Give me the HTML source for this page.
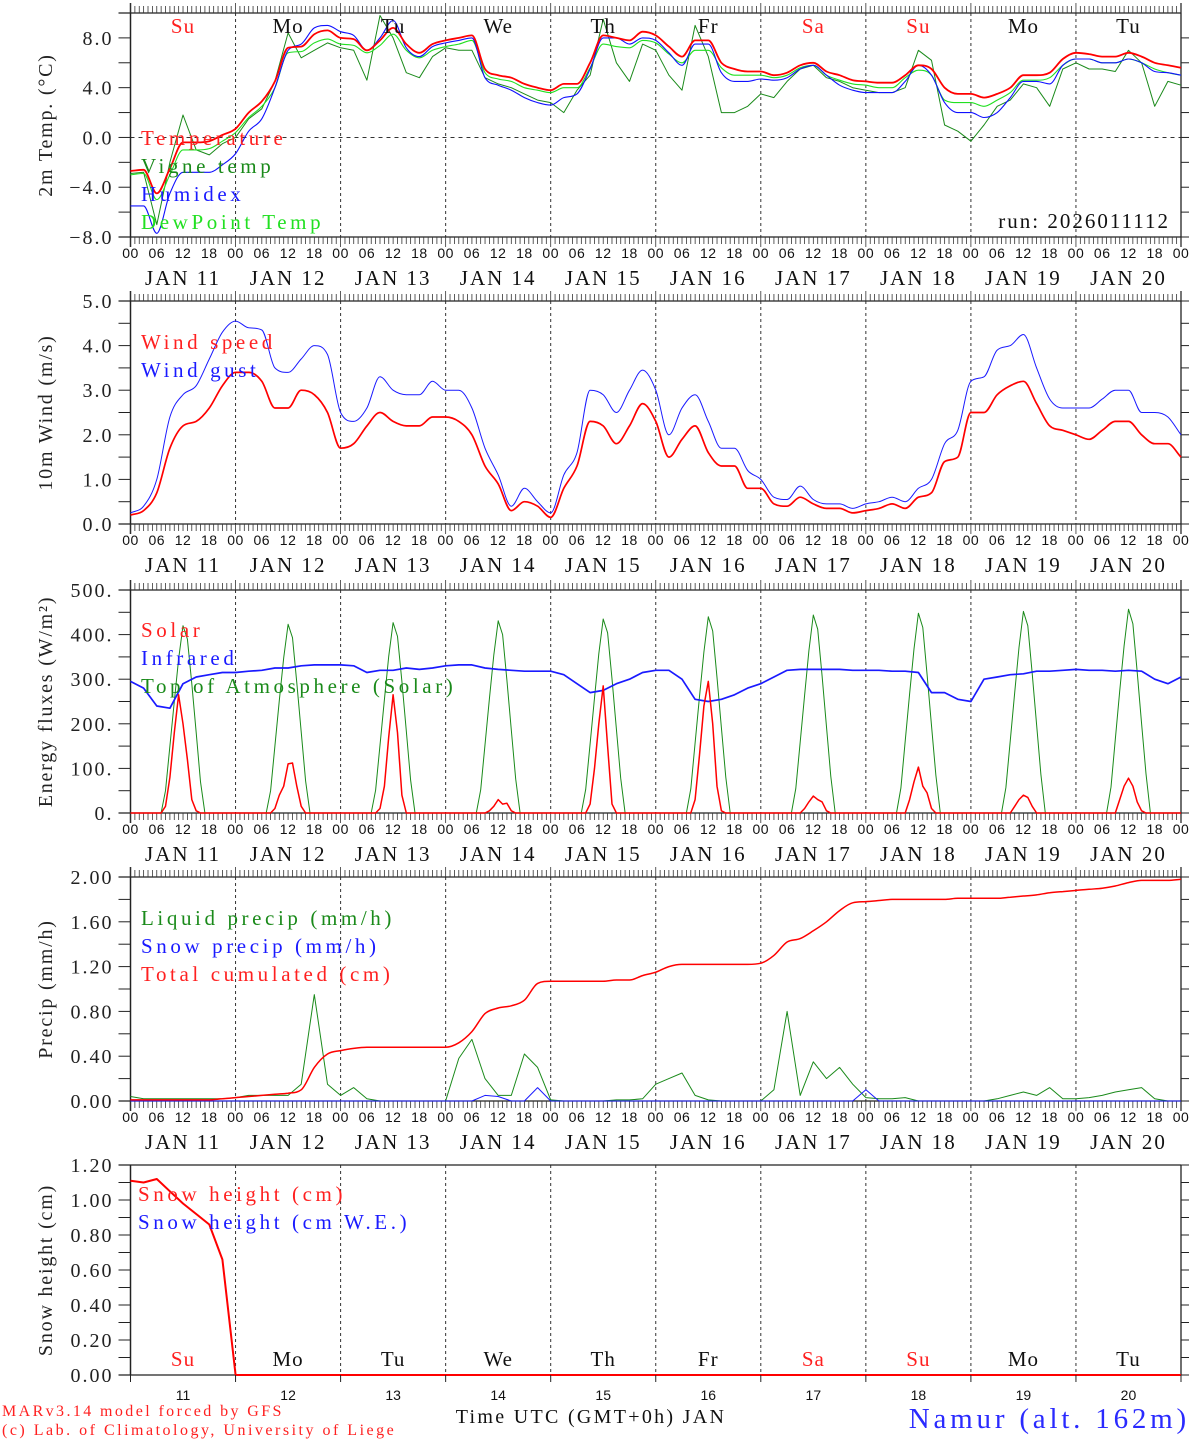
<!DOCTYPE html>
<html><head><meta charset="utf-8"><style>
html,body{margin:0;padding:0;background:#fff}
svg{display:block;font-family:"Liberation Serif",serif}
</style></head><body>
<svg id="chart" width="1194" height="1440" viewBox="0 0 1194 1440" xmlns="http://www.w3.org/2000/svg"></svg>
<script>
const days=["11","12","13","14","15","16","17","18","19","20"];
const weekdays=["Su","Mo","Tu","We","Th","Fr","Sa","Su","Mo","Tu"];
const weekendFlags=[1,0,0,0,0,0,1,1,0,0];
// 3-hourly series (81 values: 00Z Jan 11 .. 00Z Jan 21)
const tempVals=[-2.7,-2.6,-4.5,-2.5,-0.4,-0.4,-0.3,0.2, 0.7,2.0,2.9,4.5,7.2,7.3,8.3,8.6, 8.0,7.9,7.0,7.8,8.8,7.5,6.8,7.5, 7.8,8.0,8.2,5.5,5.0,4.8,4.3,4.0, 3.8,4.3,4.3,6.0,8.2,8.0,7.8,8.5, 8.2,7.3,6.5,7.8,7.8,6.0,5.5,5.3, 5.3,5.0,5.2,5.8,6.0,5.3,5.0,4.6, 4.5,4.4,4.4,5.0,5.8,5.5,4.0,3.5, 3.5,3.2,3.5,4.0,5.0,5.0,5.2,6.3, 6.8,6.7,6.5,6.5,6.8,6.5,6.0,5.8,5.6];
const vigneVals=[-2.9,-2.8,-7.0,-2.0,1.8,-1.0,-1.4,-0.5, 0.0,1.5,2.3,4.5,8.4,6.4,7.0,7.6, 7.2,7.0,4.6,9.8,8.0,5.2,4.8,6.5, 7.2,7.0,7.0,4.8,4.3,4.0,3.5,3.0, 2.8,2.0,3.8,5.0,9.5,6.0,4.5,7.5, 7.0,5.0,3.8,9.0,6.5,2.0,2.0,2.5, 3.5,3.2,4.5,5.5,5.8,4.8,4.5,4.0, 3.8,3.6,3.6,4.0,7.0,6.2,1.0,0.5, -0.3,1.0,2.5,3.0,4.3,4.0,2.5,5.5, 6.0,5.5,5.5,5.3,7.0,6.0,2.5,4.5,4.2];
const humidexVals=[-5.5,-5.5,-7.7,-4.5,-2.8,-2.8,-2.8,-2.2, -1.3,0.5,1.5,4.0,7.0,7.5,8.8,9.0, 8.5,8.2,7.0,8.0,9.4,7.2,6.5,7.3, 7.6,7.8,8.0,4.8,4.2,3.8,3.2,2.8, 2.6,3.2,3.5,5.5,8.0,8.0,7.5,8.0, 7.8,6.8,5.8,7.5,7.5,5.2,4.5,4.5, 4.7,4.6,4.8,5.5,5.8,5.0,4.2,3.8, 3.6,3.6,3.6,4.5,5.8,5.0,2.8,2.0, 2.0,1.6,2.0,3.2,4.5,4.5,4.3,5.8, 6.3,6.3,6.0,6.0,6.3,6.0,5.3,5.2,5.0];
const dewVals=[-3.0,-2.9,-5.0,-3.0,-1.0,-1.0,-0.9,-0.3, 0.4,1.6,2.5,4.0,6.8,6.9,7.6,7.9, 7.5,7.4,6.8,7.4,8.3,7.0,6.4,7.0, 7.3,7.5,7.8,5.2,4.7,4.5,4.0,3.8, 3.6,4.0,4.0,5.6,7.5,7.3,7.2,7.8, 7.6,6.7,6.0,7.0,7.0,5.6,5.0,5.0, 5.0,4.8,5.0,5.6,5.8,5.0,4.6,4.3, 4.2,4.0,4.0,4.8,5.4,5.0,3.0,2.8, 2.8,2.5,3.0,3.6,4.6,4.6,4.8,5.8, 6.3,6.3,6.0,6.0,6.3,6.0,5.5,5.2,5.0];
const windVals=[0.2,0.3,0.7,1.7,2.2,2.3,2.6,3.1, 3.4,3.4,3.2,2.6,2.6,3.0,2.9,2.5, 1.7,1.8,2.2,2.5,2.3,2.2,2.2,2.4, 2.4,2.3,2.0,1.3,0.9,0.3,0.5,0.4, 0.15,0.8,1.3,2.3,2.2,1.8,2.2,2.7, 2.3,1.5,1.9,2.2,1.6,1.3,1.3,0.8, 0.8,0.45,0.4,0.6,0.45,0.35,0.35,0.25, 0.3,0.35,0.45,0.35,0.6,0.7,1.4,1.5, 2.5,2.5,2.9,3.1,3.2,2.7,2.2,2.1, 2.0,1.9,2.1,2.3,2.3,2.0,1.8,1.8,1.5];
const gustVals=[0.25,0.4,1.0,2.4,2.9,3.1,3.7,4.3, 4.55,4.4,4.35,3.5,3.4,3.7,4.0,3.8, 2.5,2.3,2.6,3.3,3.0,2.9,2.9,3.2, 3.0,3.0,2.6,1.7,1.1,0.4,0.8,0.5, 0.25,1.1,1.6,3.0,2.9,2.5,3.0,3.45, 3.0,2.0,2.6,2.9,2.3,1.7,1.7,1.2, 1.0,0.6,0.55,0.85,0.55,0.45,0.45,0.35, 0.45,0.5,0.6,0.5,0.8,1.0,1.8,2.1, 3.2,3.3,3.9,4.0,4.25,3.5,2.8,2.6, 2.6,2.6,2.8,3.0,3.0,2.5,2.5,2.4,2.0];
// hourly (241 values) for solar / TOA
const solarVals=[
0,0,0,0,0,0,0,0,15,80,180,265,200,120,30,5,0,0,0,0,0,0,0,0,
0,0,0,0,0,0,0,0,0,10,40,60,110,112,60,15,0,0,0,0,0,0,0,0,
0,0,0,0,0,0,0,0,0,10,60,170,265,180,40,0,0,0,0,0,0,0,0,0,
0,0,0,0,0,0,0,0,0,0,5,15,30,20,22,5,0,0,0,0,0,0,0,0,
0,0,0,0,0,0,0,0,0,20,100,200,285,150,20,0,0,0,0,0,0,0,0,0,
0,0,0,0,0,0,0,0,0,30,130,240,295,200,60,5,0,0,0,0,0,0,0,0,
0,0,0,0,0,0,0,0,0,0,10,25,38,30,25,5,0,0,0,0,0,0,0,0,
0,0,0,0,0,0,0,0,0,0,30,70,103,60,45,10,0,0,0,0,0,0,0,0,
0,0,0,0,0,0,0,0,0,0,15,30,40,35,15,0,0,0,0,0,0,0,0,0,
0,0,0,0,0,0,0,0,0,0,30,60,78,60,25,5,0,0,0,0,0,0,0,0,0];
const toaVals=[
0,0,0,0,0,0,0,0,50,150,250,345,420,390,290,180,70,0,0,0,0,0,0,0,
0,0,0,0,0,0,0,0,50,150,252,348,423,393,292,182,72,0,0,0,0,0,0,0,
0,0,0,0,0,0,0,0,51,152,254,351,427,396,295,184,74,0,0,0,0,0,0,0,
0,0,0,0,0,0,0,0,52,153,256,354,431,400,298,186,76,0,0,0,0,0,0,0,
0,0,0,0,0,0,0,0,53,155,258,357,435,404,301,188,78,0,0,0,0,0,0,0,
0,0,0,0,0,0,0,0,54,157,261,361,440,408,304,191,80,0,0,0,0,0,0,0,
0,0,0,0,0,0,0,0,55,159,264,364,444,412,307,193,82,0,0,0,0,0,0,0,
0,0,0,0,0,0,0,0,56,161,267,368,448,416,310,196,84,0,0,0,0,0,0,0,
0,0,0,0,0,0,0,0,57,163,270,371,452,420,313,198,86,0,0,0,0,0,0,0,
0,0,0,0,0,0,0,0,58,165,273,375,457,424,316,200,88,0,0,0,0,0,0,0,0];
const infraredVals=[295,280,240,235,290,305,310,315, 315,318,320,325,325,330,332,332, 332,330,315,320,320,325,322,325, 330,332,332,325,322,320,318,318, 318,310,290,270,275,290,300,315, 320,320,300,255,250,255,265,280, 290,305,320,322,322,322,322,320, 320,320,318,318,315,270,270,255, 250,300,305,310,312,318,318,320, 322,320,320,318,320,318,300,290,305];
const liquidVals=[0.04,0.02,0.02,0.02,0.02,0.02,0.02,0.02, 0.03,0.05,0.05,0.05,0.05,0.15,0.95,0.15, 0.05,0.12,0.02,0,0,0,0,0, 0,0.38,0.55,0.2,0.05,0.05,0.42,0.3, 0.01,0,0,0,0,0.01,0.01,0.02, 0.15,0.2,0.25,0.05,0.01,0,0,0, 0,0.1,0.8,0.05,0.35,0.2,0.3,0.15, 0.03,0.02,0.02,0.03,0,0,0,0, 0,0,0.02,0.05,0.08,0.05,0.12,0.02, 0.02,0.03,0.05,0.08,0.1,0.12,0.02,0,0];
const snowPrecipVals=[0,0,0,0,0,0,0,0, 0,0,0,0,0,0,0,0, 0,0,0,0,0,0,0,0, 0,0,0,0.05,0.04,0,0,0.12, 0,0,0,0,0,0,0,0, 0,0,0,0,0,0,0,0, 0,0,0,0,0,0,0,0, 0.1,0,0,0,0,0,0,0, 0,0,0,0,0,0,0,0, 0,0,0,0,0,0,0,0,0];
const cumulVals=[0.01,0.01,0.01,0.01,0.01,0.01,0.01,0.02, 0.03,0.04,0.05,0.06,0.07,0.10,0.30,0.42, 0.45,0.47,0.48,0.48,0.48,0.48,0.48,0.48, 0.48,0.52,0.62,0.78,0.83,0.85,0.90,1.05, 1.07,1.07,1.07,1.07,1.07,1.08,1.08,1.12, 1.15,1.20,1.22,1.22,1.22,1.22,1.22,1.22, 1.23,1.30,1.42,1.45,1.52,1.60,1.70,1.77, 1.78,1.79,1.80,1.80,1.80,1.80,1.80,1.81, 1.81,1.81,1.81,1.82,1.83,1.84,1.86,1.87, 1.88,1.89,1.90,1.92,1.95,1.97,1.97,1.97,1.98];
const snowHeightVals=[1.11,1.10,1.12,1.05,0.98,0.92,0.86,0.66, 0,0,0,0,0,0,0,0, 0,0,0,0,0,0,0,0, 0,0,0,0,0,0,0,0, 0,0,0,0,0,0,0,0, 0,0,0,0,0,0,0,0, 0,0,0,0,0,0,0,0, 0,0,0,0,0,0,0,0, 0,0,0,0,0,0,0,0, 0,0,0,0,0,0,0,0,0];
const tempTicks=["8.0","4.0","0.0","−4.0","−8.0"];
const windTicks=["5.0","4.0","3.0","2.0","1.0","0.0"];
const energyTicks=["500.","400.","300.","200.","100.","0."];
const precipTicks=["2.00","1.60","1.20","0.80","0.40","0.00"];
const snowTicks=["1.20","1.00","0.80","0.60","0.40","0.20","0.00"];

const NS="http://www.w3.org/2000/svg";
const svg=document.getElementById('chart');
const X0=130.5,X1=1181;
function x(h){return X0+(X1-X0)*h/240;}
function mk(tag,attrs,parent){const e=document.createElementNS(NS,tag);for(const k in attrs)e.setAttribute(k,attrs[k]);(parent||svg).appendChild(e);return e;}
function txt(s,attrs,parent){const e=mk('text',attrs,parent);e.textContent=s;return e;}
function monoPath(P){
  const n=P.length;if(n<2)return '';
  const d=[],m=new Array(n);
  for(let i=0;i<n-1;i++)d.push((P[i+1][1]-P[i][1])/(P[i+1][0]-P[i][0]));
  m[0]=d[0];m[n-1]=d[n-2];
  for(let i=1;i<n-1;i++){m[i]=(d[i-1]*d[i]<=0)?0:(d[i-1]+d[i])/2;}
  for(let i=0;i<n-1;i++){if(d[i]===0){m[i]=0;m[i+1]=0;continue;}
    const a=m[i]/d[i],b=m[i+1]/d[i],s=a*a+b*b;if(s>9){const t=3/Math.sqrt(s);m[i]=t*a*d[i];m[i+1]=t*b*d[i];}}
  let s='M'+P[0][0].toFixed(1)+','+P[0][1].toFixed(1);
  for(let i=0;i<n-1;i++){const h=(P[i+1][0]-P[i][0])/3;
    s+=' C'+(P[i][0]+h).toFixed(1)+','+(P[i][1]+m[i]*h).toFixed(1)+' '+(P[i+1][0]-h).toFixed(1)+','+(P[i+1][1]-m[i+1]*h).toFixed(1)+' '+P[i+1][0].toFixed(1)+','+P[i+1][1].toFixed(1);}
  return s;
}

function panel(cfg){
  const g=mk('g',{});
  
  
  const top=cfg.top,bot=cfg.bot;
  const y=v=>bot-(v-cfg.min)/(cfg.max-cfg.min)*(bot-top);
  for(let d=1;d<10;d++){const l=mk('line',{x1:x(d*24),x2:x(d*24),y1:top,y2:bot,stroke:'#333','stroke-width':1,'stroke-dasharray':'3,3'},g);
    }
  if(cfg.zeroLine){const l=mk('line',{x1:X0,x2:X1,y1:y(0),y2:y(0),stroke:'#333','stroke-dasharray':'4,4'},g);
    }
  mk('line',{x1:X0-12,x2:X1,y1:top,y2:top,stroke:'#222','stroke-width':1.3},g);
  mk('line',{x1:X0-12,x2:X1,y1:bot,y2:bot,stroke:'#222','stroke-width':1.3},g);
  mk('line',{x1:X0,x2:X0,y1:cfg.hourTicks?top-10:top,y2:cfg.hourTicks?bot+10:bot,stroke:'#222','stroke-width':1.5},g);
  mk('line',{x1:X1,x2:X1,y1:cfg.hourTicks?top-10:top,y2:cfg.hourTicks?bot+10:bot,stroke:'#222','stroke-width':1.3},g);
  if(cfg.hourTicks){
    for(let h=0;h<=240;h++){const L=(h%24==0)?10:7;
      mk('line',{x1:x(h),x2:x(h),y1:top-L,y2:top,stroke:'#333','stroke-width':0.8},g);
      mk('line',{x1:x(h),x2:x(h),y1:bot,y2:bot+L,stroke:'#333','stroke-width':0.8},g);}
  }
  const n=cfg.ticks.length;
  cfg.ticks.forEach((t,i)=>{const v=cfg.max-(cfg.max-cfg.min)*i/(n-1);const yy=y(v);
    mk('line',{x1:X0-12,x2:X0,y1:yy,y2:yy,stroke:'#222'},g);
    mk('line',{x1:X1,x2:X1+8,y1:yy,y2:yy,stroke:'#222'},g);
    if(i<n-1){const ym=yy+(bot-top)/(n-1)/2;mk('line',{x1:X0-12,x2:X0,y1:ym,y2:ym,stroke:'#222'},g);mk('line',{x1:X1,x2:X1+8,y1:ym,y2:ym,stroke:'#222'},g);}
    const lab=txt(t,{x:X0-17,y:yy+7,'text-anchor':'end','font-size':20,'letter-spacing':2,fill:'#222'},g);
    
  });
  const yt=txt(cfg.title,{transform:`translate(${cfg.titleX||52},${(top+bot)/2}) rotate(-90)`,'text-anchor':'middle','font-size':20,'letter-spacing':1.8,fill:'#222'},g);
  
  if(cfg.hourLabels){
    for(let d=0;d<=10;d++){["00","06","12","18"].forEach((s,k)=>{if(d==10&&k>0)return;
      const t=txt(s,{x:x(d*24+k*6),y:bot+21,'text-anchor':'middle','font-size':14,'letter-spacing':0.5,'font-family':'"Liberation Sans",sans-serif',fill:'#111'},g);
      });}
    days.forEach((dd,i)=>{const t=txt('JAN  '+dd,{x:x(i*24+12),y:bot+48,'text-anchor':'middle','font-size':21,'letter-spacing':2,fill:'#111','xml:space':'preserve'},g);
      });
  }
  cfg.series.forEach(s=>{
    const step=s.step||3;
    const P=s.vals.map((v,i)=>[x(i*step),y(Math.max(cfg.min,Math.min(cfg.max,v)))]);
    let p;
    if(s.linear){p=mk('polyline',{points:P.map(q=>q[0].toFixed(1)+','+q[1].toFixed(1)).join(' '),fill:'none',stroke:s.color,'stroke-width':s.w||1.2,'stroke-linejoin':'round'},g);}
    else{p=mk('path',{d:monoPath(P),fill:'none',stroke:s.color,'stroke-width':s.w||1.2,'stroke-linejoin':'round'},g);}
    
    
  });
  cfg.legend.forEach((l,i)=>{const t=txt(l[0],{x:cfg.legX||141,y:cfg.legY+i*28,'font-size':21,'letter-spacing':3.6,fill:l[1]},g);
    });
  return {g,y};
}

const p1=panel({name:'temperature-panel',top:13,bot:237,min:-8,max:10,ticks:[],title:'2m Temp. (°C)',zeroLine:true,hourTicks:true,hourLabels:true,
  series:[{name:'vigne-temp',vals:vigneVals,color:'#1a8a1a',w:1,linear:true},{name:'dewpoint',vals:dewVals,color:'#22e022',w:1.1},{name:'humidex',vals:humidexVals,color:'#1010ff',w:1.1},{name:'temperature',vals:tempVals,color:'#ff0000',w:1.8}],
  legend:[['Temperature','#ff2020'],['Vigne temp','#1a8a1a'],['Humidex','#1a1aff'],['DewPoint Temp','#22e022']],legY:145});
[8,4,0,-4,-8].forEach((v,i)=>{const yy=p1.y(v);mk('line',{x1:X0-12,x2:X0,y1:yy,y2:yy,stroke:'#222'},p1.g);mk('line',{x1:X1,x2:X1+8,y1:yy,y2:yy,stroke:'#222'},p1.g);
  const t=txt(tempTicks[i],{x:X0-17,y:yy+7,'text-anchor':'end','font-size':20,'letter-spacing':2,fill:'#222'},p1.g);});
[6,2,-2,-6].forEach(v=>{const yy=p1.y(v);mk('line',{x1:X0-12,x2:X0,y1:yy,y2:yy,stroke:'#222'},p1.g);mk('line',{x1:X1,x2:X1+8,y1:yy,y2:yy,stroke:'#222'},p1.g);});
weekdays.forEach((w,i)=>{const t=txt(w,{x:x(i*24+12),y:33,'text-anchor':'middle','font-size':21,'letter-spacing':1,fill:weekendFlags[i]?'#ff2020':'#111'},p1.g);
  });
{const t=txt('run: 2026011112',{x:1170,y:228,'text-anchor':'end','font-size':21,'letter-spacing':2,fill:'#111'},p1.g);}

panel({name:'wind-panel',top:301,bot:524,min:0,max:5,ticks:windTicks,title:'10m Wind (m/s)',hourTicks:true,hourLabels:true,
  series:[{name:'wind-gust',vals:gustVals,color:'#1a1aff',w:1},{name:'wind-speed',vals:windVals,color:'#ff0000',w:1.7}],
  legend:[['Wind speed','#ff2020'],['Wind gust','#1a1aff']],legY:349});

panel({name:'energy-panel',top:590,bot:813,min:0,max:500,ticks:energyTicks,title:'Energy fluxes (W/m²)',hourTicks:true,hourLabels:true,
  series:[{name:'toa-solar',vals:toaVals,color:'#1a8a1a',w:1,step:1,linear:true},{name:'infrared',vals:infraredVals,color:'#1a1aff',w:1.7,linear:true},{name:'solar',vals:solarVals,color:'#ff0000',w:1.5,step:1,linear:true}],
  legend:[['Solar','#ff2020'],['Infrared','#1a1aff'],['Top of Atmosphere (Solar)','#1a8a1a']],legY:637});

panel({name:'precip-panel',top:877,bot:1101,min:0,max:2,ticks:precipTicks,title:'Precip (mm/h)',hourTicks:true,hourLabels:true,
  series:[{name:'liquid-precip',vals:liquidVals,color:'#1a8a1a',w:1,linear:true},{name:'snow-precip',vals:snowPrecipVals,color:'#1a1aff',w:1,linear:true},{name:'total-cumulated',vals:cumulVals,color:'#ff0000',w:1.5}],
  legend:[['Liquid precip (mm/h)','#1a8a1a'],['Snow precip (mm/h)','#1a1aff'],['Total cumulated (cm)','#ff2020']],legY:925});

const p5=panel({name:'snow-panel',top:1165,bot:1375,min:0,max:1.2,ticks:snowTicks,title:'Snow height (cm)',hourTicks:false,hourLabels:false,
  series:[{name:'snow-height',vals:snowHeightVals,color:'#ff0000',w:2,linear:true}],
  legend:[['Snow height (cm)','#ff2020'],['Snow height (cm W.E.)','#1a1aff']],legY:1201,legX:138});
weekdays.forEach((w,i)=>{const t=txt(w,{x:x(i*24+12),y:1366,'text-anchor':'middle','font-size':21,'letter-spacing':1,fill:weekendFlags[i]?'#ff2020':'#111'},p5.g);
  });
for(let d=0;d<=10;d++){mk('line',{x1:x(d*24),x2:x(d*24),y1:1375,y2:1382,stroke:'#222'},p5.g);}
days.forEach((dd,i)=>{const t=txt(dd,{x:x(i*24+12),y:1400,'text-anchor':'middle','font-size':14,'font-family':'"Liberation Sans",sans-serif',fill:'#111'},p5.g);
  });

const f1=txt('MARv3.14 model forced by GFS',{x:2,y:1416,'font-size':16,'letter-spacing':2.4,fill:'#ff2020'});

const f2=txt('(c) Lab. of Climatology, University of Liege',{x:2,y:1435,'font-size':16,'letter-spacing':2.5,fill:'#ff2020'});

const f3=txt('Time UTC (GMT+0h) JAN',{x:591,y:1423,'text-anchor':'middle','font-size':20,'letter-spacing':2.3,fill:'#111'});

const f4=txt('Namur (alt. 162m)',{x:1190,y:1428,'text-anchor':'end','font-size':29,'letter-spacing':3.8,fill:'#2a2aff'});

</script>
</body></html>
